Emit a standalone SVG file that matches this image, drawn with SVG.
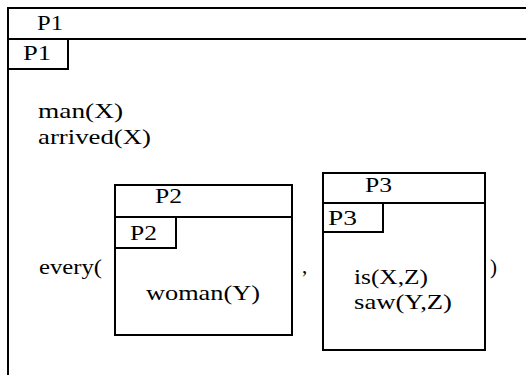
<svg xmlns="http://www.w3.org/2000/svg" width="526" height="375" viewBox="0 0 526 375">
  <style>
    .ln { stroke: #000; stroke-width: 2; fill: none; }
    .box { stroke: #000; stroke-width: 2; fill: #fff; }
    text { font-family: "Liberation Serif", "Times New Roman", serif; font-size: 21px; fill: #000; }
  </style>
  <rect width="526" height="375" fill="#fff"/>

  <!-- outer DRS P1 (open to the right and bottom) -->
  <g id="p1">
    <path class="ln" d="M8 375 V8 H526 M8 39 H526 M8 69 H68 V39"/>
    <text x="37" y="30" textLength="26" lengthAdjust="spacingAndGlyphs">P1</text>
    <text x="23" y="60" textLength="28" lengthAdjust="spacingAndGlyphs">P1</text>
    <text x="38" y="118" textLength="85" lengthAdjust="spacingAndGlyphs">man(X)</text>
    <text x="38" y="144" textLength="113" lengthAdjust="spacingAndGlyphs">arrived(X)</text>
    <text x="39" y="274" textLength="63" lengthAdjust="spacingAndGlyphs">every(</text>
    <text x="302" y="273">,</text>
    <text x="490" y="274">)</text>
  </g>

  <!-- restrictor P2 -->
  <g id="p2">
    <rect class="box" x="115" y="185" width="177" height="150"/>
    <path class="ln" d="M115 217 H292 M115 248 H176 V217"/>
    <text x="155" y="203" textLength="27" lengthAdjust="spacingAndGlyphs">P2</text>
    <text x="130" y="240" textLength="27" lengthAdjust="spacingAndGlyphs">P2</text>
    <text x="146" y="300" textLength="114" lengthAdjust="spacingAndGlyphs">woman(Y)</text>
  </g>

  <!-- scope P3 -->
  <g id="p3">
    <rect class="box" x="323" y="173" width="162" height="177"/>
    <path class="ln" d="M323 203 H485 M323 232 H383 V203"/>
    <text x="365" y="192" textLength="27" lengthAdjust="spacingAndGlyphs">P3</text>
    <text x="328" y="225" textLength="29" lengthAdjust="spacingAndGlyphs">P3</text>
    <text x="354" y="284" textLength="74" lengthAdjust="spacingAndGlyphs">is(X,Z)</text>
    <text x="354" y="309" textLength="98" lengthAdjust="spacingAndGlyphs">saw(Y,Z)</text>
  </g>

  <g id="connectors"/>
</svg>
